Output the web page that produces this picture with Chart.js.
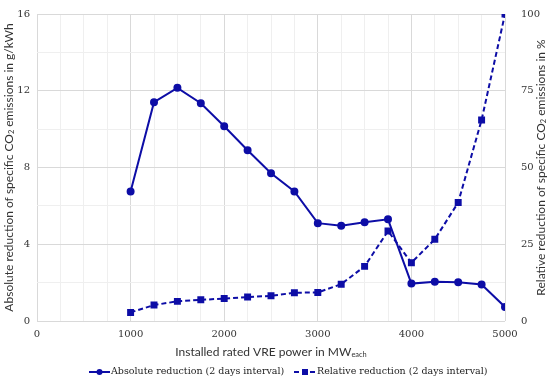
<!DOCTYPE html>
<html lang="en">
<head>
    <meta charset="UTF-8">
    <title>CO2 emission reduction vs installed VRE power</title>
    <script src="https://cdn.jsdelivr.net/npm/chart.js"></script>
    <style>
        html, body { margin: 0; padding: 0; background: #fff; }
        #wrap { width: 550px; height: 381px; position: relative; }
    </style>
</head>
<body>
    <div id="wrap"><canvas id="co2Chart"></canvas></div>

    <script>
        // installed rated VRE power in MW each
        const power = [1000, 1250, 1500, 1750, 2000, 2250, 2500, 2750, 3000, 3250, 3500, 3750, 4000, 4250, 4500, 4750, 5000];
        // absolute reduction, g/kWh (left axis)
        const absReduction = [6.75, 11.4, 12.15, 11.35, 10.15, 8.9, 7.7, 6.75, 5.1, 4.97, 5.15, 5.3, 1.95, 2.05, 2.02, 1.9, 0.73];
        // relative reduction, % (right axis)
        const relReduction = [2.8, 5.2, 6.4, 6.9, 7.3, 7.8, 8.2, 9.2, 9.3, 12.0, 17.8, 29.3, 19.0, 26.6, 38.6, 65.5, 100];

        const leftTicks = [0, 4, 8, 12, 16];
        const rightTicks = [0, 25, 50, 75, 100];
        const xTicks = [0, 1000, 2000, 3000, 4000, 5000];

        const blue = '#0D0DA6';
        const serif = '"DejaVu Serif", serif';
        const sans = 'Lato, "Open Sans", sans-serif';

        function pts(ys) {
            return power.map((p, i) => ({ x: p, y: ys[i] }));
        }

        // draws text pieces, some of them small and lowered (subscripts)
        function richText(ctx, parts, size) {
            let total = 0;
            parts.forEach(p => {
                ctx.font = (p.sub ? size * 0.62 : size) + 'px ' + sans;
                total += ctx.measureText(p.t).width;
            });
            let x = -total / 2;
            parts.forEach(p => {
                ctx.font = (p.sub ? size * 0.62 : size) + 'px ' + sans;
                ctx.fillText(p.t, x, p.sub ? size * 0.25 : 0);
                x += ctx.measureText(p.t).width;
            });
        }

        const titlesPlugin = {
            id: 'titles',
            afterDraw(chart) {
                const ctx = chart.ctx;
                const area = chart.chartArea;
                const midY = (area.top + area.bottom) / 2;
                ctx.save();
                ctx.fillStyle = '#333';
                ctx.textBaseline = 'middle';
                ctx.textAlign = 'left';

                ctx.save();
                ctx.translate((area.left + area.right) / 2, 352);
                richText(ctx, [{ t: 'Installed rated VRE power in MW' }, { t: 'each', sub: true }], 12);
                ctx.restore();

                ctx.save();
                ctx.translate(9, midY);
                ctx.rotate(-Math.PI / 2);
                richText(ctx, [{ t: 'Absolute reduction of specific CO' }, { t: '2', sub: true }, { t: ' emissions in g/kWh' }], 12);
                ctx.restore();

                ctx.save();
                ctx.translate(541, midY);
                ctx.rotate(-Math.PI / 2);
                richText(ctx, [{ t: 'Relative reduction of specific CO' }, { t: '2', sub: true }, { t: ' emissions in %' }], 12);
                ctx.restore();

                // legend
                const ly = 372;
                ctx.strokeStyle = blue;
                ctx.fillStyle = blue;
                ctx.lineWidth = 2;
                ctx.beginPath();
                ctx.moveTo(89, ly);
                ctx.lineTo(110, ly);
                ctx.stroke();
                ctx.beginPath();
                ctx.arc(99.5, ly, 3, 0, Math.PI * 2);
                ctx.fill();

                ctx.setLineDash([5, 3]);
                ctx.beginPath();
                ctx.moveTo(294, ly);
                ctx.lineTo(316, ly);
                ctx.stroke();
                ctx.setLineDash([]);
                ctx.fillRect(302, ly - 3, 6, 6);

                ctx.fillStyle = '#222';
                ctx.font = '9.5px ' + serif;
                ctx.fillText('Absolute reduction (2 days interval)', 111, ly);
                ctx.fillText('Relative reduction (2 days interval)', 317, ly);
                ctx.restore();
            }
        };

        function gridColor(major) {
            return c => (c.tick && major.includes(c.tick.value)) ? '#D9D9D9' : '#EFEFEF';
        }

        new Chart(document.getElementById('co2Chart').getContext('2d'), {
            type: 'line',
            data: {
                datasets: [{
                    label: 'Absolute reduction (2 days interval)',
                    data: pts(absReduction),
                    yAxisID: 'y',
                    borderColor: blue,
                    backgroundColor: blue,
                    borderWidth: 2,
                    pointStyle: 'circle',
                    pointRadius: 3,
                    tension: 0
                }, {
                    label: 'Relative reduction (2 days interval)',
                    data: pts(relReduction),
                    yAxisID: 'y1',
                    borderColor: blue,
                    backgroundColor: blue,
                    borderWidth: 2,
                    borderDash: [5, 3],
                    pointStyle: 'rect',
                    pointRadius: 3.5,
                    tension: 0
                }]
            },
            options: {
                responsive: true,
                maintainAspectRatio: false,
                animation: false,
                layout: { padding: { top: 8, left: 0, right: 0, bottom: 0 } },
                plugins: { legend: { display: false }, tooltip: { enabled: false } },
                scales: {
                    x: {
                        type: 'linear',
                        min: 0, max: 5000,
                        afterFit(s) { s.height = 60; },
                        border: { display: false },
                        grid: { drawTicks: false, color: gridColor(xTicks) },
                        ticks: {
                            stepSize: 250,
                            autoSkip: false,
                            maxRotation: 0,
                            padding: 7,
                            color: '#333',
                            font: { family: serif, size: 10 },
                            callback: v => xTicks.includes(v) ? v : ''
                        }
                    },
                    y: {
                        position: 'left',
                        min: 0, max: 16,
                        afterFit(s) { s.width = 37; },
                        border: { display: false },
                        grid: { drawTicks: false, color: gridColor(leftTicks) },
                        ticks: {
                            stepSize: 2,
                            autoSkip: false,
                            padding: 7,
                            color: '#333',
                            font: { family: serif, size: 10 },
                            callback: v => leftTicks.includes(v) ? v : ''
                        }
                    },
                    y1: {
                        position: 'right',
                        min: 0, max: 100,
                        afterFit(s) { s.width = 45; },
                        border: { display: false },
                        grid: { display: false },
                        ticks: {
                            stepSize: 25,
                            padding: 8,
                            color: '#333',
                            font: { family: serif, size: 10 },
                            callback: v => rightTicks.includes(v) ? v : ''
                        }
                    }
                }
            },
            plugins: [titlesPlugin]
        });
    </script>
</body>
</html>
